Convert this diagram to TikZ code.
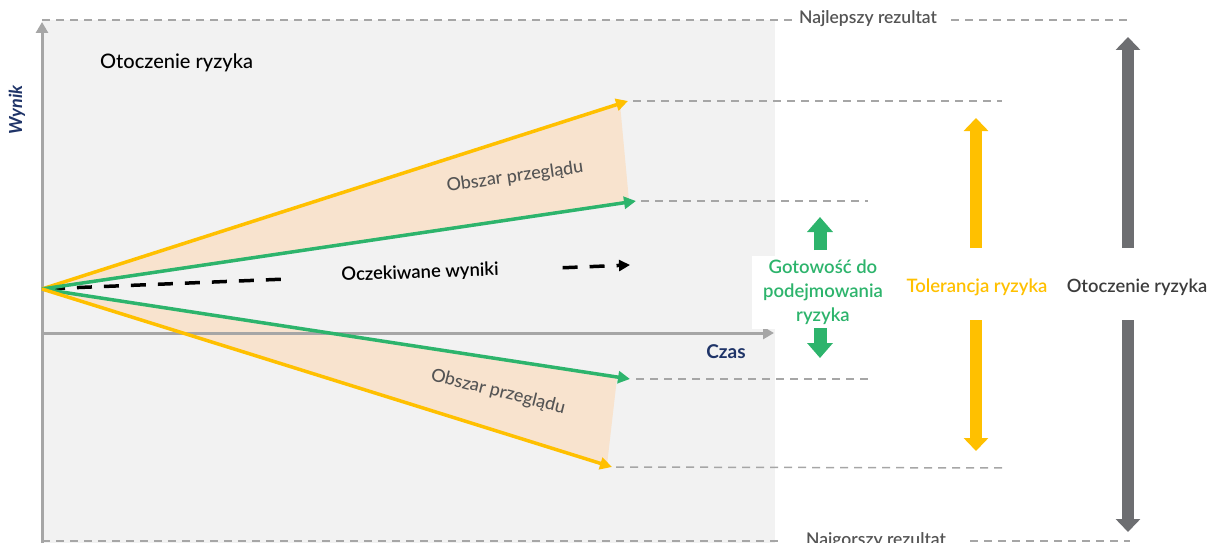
\documentclass[tikz,border=0pt]{standalone}
\usepackage{fontspec}
\setmainfont{Lato}
\newfontfamily\semib{Lato Semibold}
\newfontfamily\medw{Lato Medium}
\usetikzlibrary{arrows.meta}
\definecolor{bggray}{HTML}{F2F2F2}
\definecolor{axisgray}{HTML}{A6A6A6}
\definecolor{riskyellow}{HTML}{FFC000}
\definecolor{riskgreen}{HTML}{2DB46C}
\definecolor{peach}{HTML}{F8E3CE}
\definecolor{arrowgray}{HTML}{6D6E71}
\definecolor{navy}{HTML}{1F3468}
\definecolor{textgray}{HTML}{545454}
\definecolor{labelgray}{HTML}{3C3C3C}
\tikzset{
  axisline/.style={draw=axisgray, line width=3pt, -{Triangle[length=11pt,width=12pt]}},
  guide/.style={draw=axisgray, line width=1.5pt, dash pattern=on 8pt off 6pt},
  trend/.style={line width=3.5pt, -{Triangle[length=12pt,width=12pt]}},
  expected/.style={draw=black, line width=3.5pt, dash pattern=on 15pt off 12pt, dash phase=19pt, -{Triangle[length=11pt,width=11pt]}},
  blockarrow/.style={line width=12pt, -{Triangle[length=13pt,width=24pt]}},
  lbl/.style={inner sep=0pt},
}
\begin{document}
\begin{tikzpicture}[x=1pt,y=-1pt]
\useasboundingbox (0,0) rectangle (1208,543);

% plotting area
\fill[bggray] (42,20) rectangle (775,543);

% key points of the fan
\coordinate (O) at (42,289);
\coordinate (yu) at (628,101);
\coordinate (gu) at (636,201);
\coordinate (gl) at (630,379);
\coordinate (yl) at (612,467);
\coordinate (ex) at (630,265);

% review areas between tolerance and appetite
\fill[peach] (O) -- (620,104) -- (629,201) -- cycle;
\fill[peach] (O) -- (617,378) -- (607,465) -- cycle;

% axes
\draw[axisline] (42,543) -- (42,22);
\draw[axisline] (42,333) -- (774,333);
\node[lbl, rotate=90, text=navy, font=\fontsize{18}{21}\selectfont\bfseries\itshape] (wynik) at (17,110) {Wynik};
\node[lbl, text=navy, font=\fontsize{19}{22}\selectfont\bfseries] (czas) at (726,352) {Czas};

% best / worst outcome guides
\node[lbl, anchor=base, text=textgray, font=\fontsize{17.5}{20}\semib] (best) at (868,24) {Najlepszy rezultat};
\node[lbl, anchor=base, text=textgray, font=\fontsize{17.5}{20}\semib] (worst) at (876,545) {Najgorszy rezultat};
\draw[guide] (42,20) -- ([xshift=-6pt]best.west |- 0,20);
\draw[guide] ([xshift=14pt]best.east |- 0,20) -- (1130,20);
\draw[guide] (42,541) -- (780,541);
\draw[guide] (970,541) -- (1130,541);

% expected outcome
\draw[expected] (O) -- (ex);
\node[fill=bggray, inner xsep=57pt, inner ysep=3pt, rotate=2, font=\fontsize{18.4}{21}\semib] (exp) at (420,273) {Oczekiwane wyniki};

% tolerance and appetite bounds
\draw[trend, riskyellow] (O) -- (yu);
\draw[trend, riskgreen] (O) -- (gu);
\draw[trend, riskgreen] (O) -- (gl);
\draw[trend, riskyellow] (O) -- (yl);

\draw[guide] ([xshift=5pt]yu) -- (1002,101);
\draw[guide] ([xshift=5pt]gu) -- (868,201);
\draw[guide] ([xshift=6pt]gl) -- (868,379);
\draw[guide] ([xshift=4pt]yl) -- (1006,468);

\node[lbl, rotate=8, text=textgray, font=\fontsize{18}{21}\medw] (rev1) at (515,177) {Obszar przeglądu};
\node[lbl, rotate=-14, text=textgray, font=\fontsize{18}{21}\medw] (rev2) at (498,392) {Obszar przeglądu};

\node[anchor=west, lbl, font=\fontsize{20}{24}\medw] (env) at (100,63) {Otoczenie ryzyka};

% right-hand legend
\node[fill=white, minimum width=142pt, minimum height=73pt, align=center, text=riskgreen,
      font=\fontsize{18.5}{24}\semib] (appetite) at (823,292) {Gotowość do\\podejmowania\\ryzyka};
\node[lbl, text=riskyellow, font=\fontsize{18.5}{22}\semib] (tol) at (977,287) {Tolerancja ryzyka};
\node[lbl, text=labelgray, font=\fontsize{18.3}{22}\semib] (envr) at (1137,287) {Otoczenie ryzyka};

\coordinate (a1) at (820,250); \coordinate (a1t) at (820,217);
\coordinate (a2) at (820,328); \coordinate (a2t) at (820,358);
\draw[line width=13pt, riskgreen, -{Triangle[length=15pt,width=25pt]}] (a1) -- (a1t);
\draw[line width=13pt, riskgreen, -{Triangle[length=15pt,width=25pt]}] (a2) -- (a2t);

\coordinate (t1) at (976,248); \coordinate (t1t) at (976,118);
\coordinate (t2) at (976,320); \coordinate (t2t) at (976,451);
\draw[blockarrow, riskyellow] (t1) -- (t1t);
\draw[blockarrow, riskyellow] (t2) -- (t2t);

\coordinate (e1) at (1128,248); \coordinate (e1t) at (1128,37);
\coordinate (e2) at (1128,320); \coordinate (e2t) at (1128,532);
\draw[blockarrow, arrowgray] (e1) -- (e1t);
\draw[blockarrow, arrowgray] (e2) -- (e2t);
\end{tikzpicture}
\end{document}
